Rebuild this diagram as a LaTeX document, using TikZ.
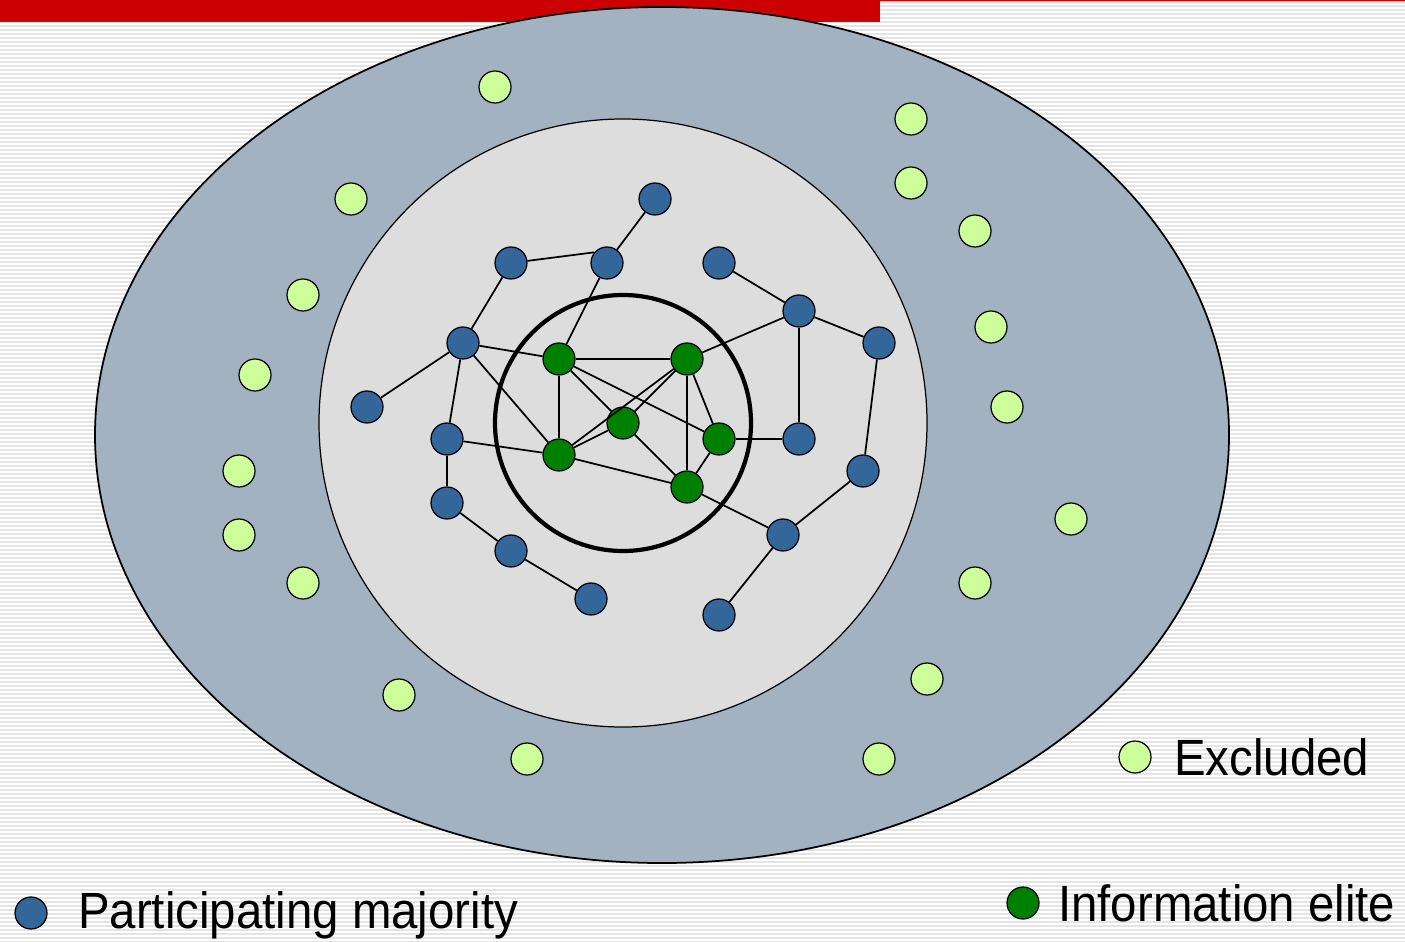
\documentclass[tikz,border=0pt]{standalone}
\usepackage{fontspec}
\setmainfont{Liberation Sans}[FakeStretch=0.93]
\usetikzlibrary{positioning}

\definecolor{slidered}{HTML}{CC0000}
\definecolor{ringgrey}{HTML}{A2B2C1}
\definecolor{coregrey}{HTML}{DDDDDD}
\definecolor{stripegrey}{HTML}{E4E4E4}
\definecolor{majblue}{HTML}{336699}
\definecolor{elitegreen}{HTML}{008000}
\definecolor{exclime}{HTML}{CCFF99}

\begin{document}
\begin{tikzpicture}[x=0.02cm, y=-0.02cm,
    vtx/.style={circle, draw=black, line width=0.7pt, minimum size=0.64cm, inner sep=0pt},
    maj/.style={vtx, fill=majblue},
    elite/.style={vtx, fill=elitegreen},
    excl/.style={vtx, fill=exclime},
    tie/.style={line width=1pt},
    legend/.style={anchor=west, font=\fontsize{29}{34}\selectfont}]
            \useasboundingbox (0,0) rectangle (1405,942);
            \fill[white] (0,0) rectangle (1405,942);
            \foreach \y in {2,6,...,942} % Crte ozadja
                \draw[stripegrey, line width=1.1pt] (0,\y) -- (1405,\y);
            \fill[slidered] (0,0) rectangle (880,22);
            \fill[slidered] (880,0) rectangle (1405,1.5);

            \draw[fill=ringgrey, line width=1pt] (662,435) ellipse [x radius=567, y radius=428];
            \draw[fill=coregrey, line width=0.7pt] (623,423) circle [radius=304];
            \draw[line width=2.4pt] (623,423) circle [radius=128];

            % Informacijska elita
            \node[elite] (E1) at (559,359) {};
            \node[elite] (E2) at (687,359) {};
            \node[elite] (E3) at (623,423) {};
            \node[elite] (E4) at (719,439) {};
            \node[elite] (E5) at (559,455) {};
            \node[elite] (E6) at (687,487) {};

            % Sodelujoca vecina
            \node[maj] (M1) at (655,199) {};
            \node[maj] (M2) at (607,263) {};
            \node[maj] (M3) at (511,263) {};
            \node[maj] (M4) at (719,263) {};
            \node[maj] (M5) at (799,311) {};
            \node[maj] (M6) at (879,343) {};
            \node[maj] (M7) at (463,343) {};
            \node[maj] (M8) at (367,407) {};
            \node[maj] (M9) at (447,439) {};
            \node[maj] (M10) at (799,439) {};
            \node[maj] (M11) at (863,471) {};
            \node[maj] (M12) at (447,503) {};
            \node[maj] (M13) at (783,535) {};
            \node[maj] (M14) at (511,551) {};
            \node[maj] (M15) at (591,599) {};
            \node[maj] (M16) at (719,615) {};

            % Izkljuceni
            \node[excl] (X1) at (495,87) {};
            \node[excl] (X2) at (911,119) {};
            \node[excl] (X3) at (351,199) {};
            \node[excl] (X4) at (911,183) {};
            \node[excl] (X5) at (975,231) {};
            \node[excl] (X6) at (303,295) {};
            \node[excl] (X7) at (991,327) {};
            \node[excl] (X8) at (255,375) {};
            \node[excl] (X9) at (1007,407) {};
            \node[excl] (X10) at (239,471) {};
            \node[excl] (X11) at (239,535) {};
            \node[excl] (X12) at (1071,519) {};
            \node[excl] (X13) at (303,583) {};
            \node[excl] (X14) at (975,583) {};
            \node[excl] (X15) at (927,679) {};
            \node[excl] (X16) at (399,695) {};
            \node[excl] (X17) at (527,759) {};
            \node[excl] (X18) at (879,759) {};

            % Povezave
            \draw[tie] (E1) -- (E2);
            \draw[tie] (E1) -- (E5);
            \draw[tie] (E1) -- (E3);
            \draw[tie] (E1) -- (E4);
            \draw[tie] (E2) -- (E5);
            \draw[tie] (E2) -- (E3);
            \draw[tie] (E2) -- (E6);
            \draw[tie] (E2) -- (E4);
            \draw[tie] (E3) -- (E5);
            \draw[tie] (E3) -- (E6);
            \draw[tie] (E5) -- (E6);
            \draw[tie] (E4) -- (E6);
            \draw[tie] (M7) -- (E1);
            \draw[tie] (M7) -- (E5);
            \draw[tie] (M9) -- (E5);
            \draw[tie] (M2) -- (E1);
            \draw[tie] (M5) -- (E2);
            \draw[tie] (M10) -- (E4);
            \draw[tie] (M13) -- (E6);
            \draw[tie] (M1) -- (M2);
            \draw[tie] (M3) -- (M2.140);
            \draw[tie] (M3) -- (M7);
            \draw[tie] (M8) -- (M7);
            \draw[tie] (M7) -- (M9);
            \draw[tie] (M9) -- (M12);
            \draw[tie] (M12) -- (M14);
            \draw[tie] (M14) -- (M15);
            \draw[tie] (M4) -- (M5);
            \draw[tie] (M5) -- (M6);
            \draw[tie] (M5) -- (M10);
            \draw[tie] (M6) -- (M11);
            \draw[tie] (M11) -- (M13);
            \draw[tie] (M13) -- (M16);

            % Legenda
            \node[excl] (LX) at (1135,757) {};
            \node[legend] (LXt) at (1168,757) {Excluded};
            \node[maj] (LM) at (31,913) {};
            \node[legend] (LMt) at (72,915) {Participating majority};
            \node[elite] (LE) at (1023,903) {};
            \node[legend] (LEt) at (1052,903) {Information elite};
\end{tikzpicture}
\end{document}
